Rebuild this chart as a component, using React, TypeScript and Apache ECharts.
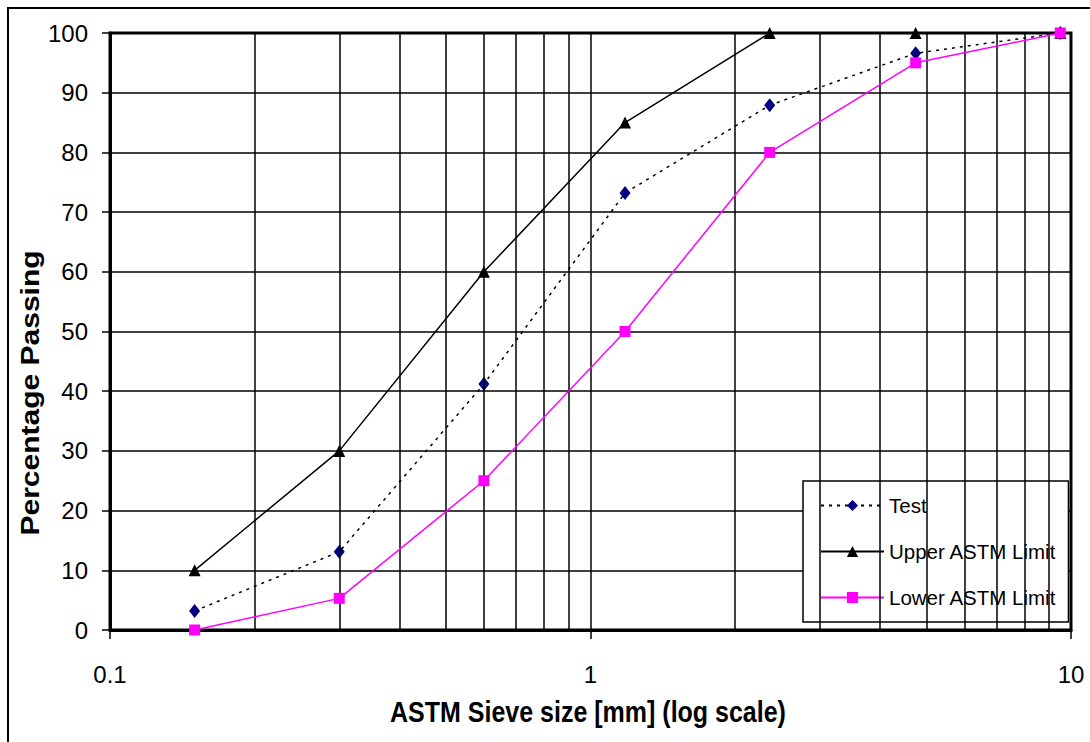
import React, { useEffect, useRef } from "react";
import * as echarts from "echarts";

const sieveSizes = [0.15, 0.3, 0.6, 1.18, 2.36, 4.75, 9.5];
const testValues = [3.2, 13.1, 41.2, 73.2, 87.9, 96.6, 100];
const upperLimit = [10, 30, 60, 85, 100, 100, 100];
const lowerLimit = [0, 5.3, 25, 50, 80, 95, 100];
const minorGridX = [0.2, 0.3, 0.4, 0.5, 0.6, 0.7, 0.8, 0.9, 2, 3, 4, 5, 6, 7, 8, 9];
const seriesNames = ["Test", "Upper ASTM Limit", "Lower ASTM Limit"];

const FONT = "'Liberation Sans', Arial, sans-serif";

export default function App() {
  const ref = useRef<HTMLDivElement>(null);
  useEffect(() => {
    if (!ref.current) return;
    const chart = echarts.init(ref.current, null, { renderer: "svg" });
    const pair = (vals: number[]) => sieveSizes.map((x, i) => [x, vals[i]]);
    chart.setOption({
      animation: false,
      backgroundColor: "#fff",
      textStyle: { fontFamily: FONT },
      grid: {
        left: 110,
        top: 33,
        right: 19,
        bottom: 112,
        show: true,
        borderColor: "#000",
        borderWidth: 3,
        backgroundColor: "transparent",
      },
      xAxis: {
        type: "log",
        logBase: 10,
        min: 0.1,
        max: 10,
        axisLine: { show: true, lineStyle: { color: "#000", width: 3 } },
        axisTick: { show: true, length: 9, lineStyle: { color: "#000", width: 1.5 } },
        axisLabel: { color: "#000", fontSize: 24, margin: 32, fontFamily: FONT },
        splitLine: { show: true, lineStyle: { color: "#000", width: 1.5 } },
      },
      yAxis: {
        type: "value",
        min: 0,
        max: 100,
        interval: 10,
        axisLine: { show: true, lineStyle: { color: "#000", width: 3 } },
        axisTick: { show: true, length: 8, lineStyle: { color: "#000", width: 1.5 } },
        axisLabel: { color: "#000", fontSize: 24, margin: 22, fontFamily: FONT },
        splitLine: { show: true, lineStyle: { color: "#000", width: 1.5 } },
      },
      legend: {
        data: seriesNames,
        orient: "vertical",
        left: 803,
        top: 481,
        padding: [14, 12, 14, 17],
        itemGap: 25,
        itemWidth: 63,
        itemHeight: 14,
        backgroundColor: "#fff",
        borderColor: "#000",
        borderWidth: 1.5,
        borderRadius: 0,
        selectedMode: false,
        textStyle: { color: "#000", fontSize: 20.5, fontFamily: FONT },
      },
      graphic: [
        {
          type: "rect",
          shape: { x: 8, y: 8, width: 1200, height: 900 },
          style: { fill: "none", stroke: "#000", lineWidth: 2 },
          silent: true,
          z: 100,
        },
        {
          type: "text",
          x: 588,
          y: 712,
          scaleY: 1.2,
          style: {
            text: "ASTM Sieve size [mm] (log scale)",
            font: `bold 25px ${FONT}`,
            fill: "#000",
            align: "center",
            verticalAlign: "middle",
          },
        },
        {
          type: "text",
          x: 30,
          y: 393,
          rotation: Math.PI / 2,
          scaleX: 1.2,
          style: {
            text: "Percentage Passing",
            font: `bold 25px ${FONT}`,
            fill: "#000",
            align: "center",
            verticalAlign: "middle",
          },
        },
      ],
      series: [
        {
          name: "minor grid",
          type: "line",
          data: [],
          z: 1,
          silent: true,
          markLine: {
            silent: true,
            symbol: ["none", "none"],
            label: { show: false },
            lineStyle: { color: "#000", type: "solid", width: 1.5 },
            emphasis: { disabled: true },
            data: minorGridX.map((v) => ({ xAxis: v })),
          },
        },
        {
          name: seriesNames[0],
          type: "line",
          data: pair(testValues),
          z: 3,
          clip: false,
          symbol: "diamond",
          symbolSize: [11, 14],
          itemStyle: { color: "#000080" },
          lineStyle: { color: "#000", width: 1.5, type: [3, 5] },
        },
        {
          name: seriesNames[1],
          type: "line",
          data: pair(upperLimit),
          z: 4,
          clip: false,
          symbol: "triangle",
          symbolSize: [12, 12],
          itemStyle: { color: "#000" },
          lineStyle: { color: "#000", width: 1.5 },
        },
        {
          name: seriesNames[2],
          type: "line",
          data: pair(lowerLimit),
          z: 5,
          clip: false,
          symbol: "rect",
          symbolSize: 11,
          itemStyle: { color: "#FF00FF" },
          lineStyle: { color: "#FF00FF", width: 1.5 },
        },
      ],
    });
    return () => chart.dispose();
  }, []);
  return (
    <div
      ref={ref}
      style={{ position: "fixed", left: 0, top: 0, width: 1090, height: 742 }}
    />
  );
}
